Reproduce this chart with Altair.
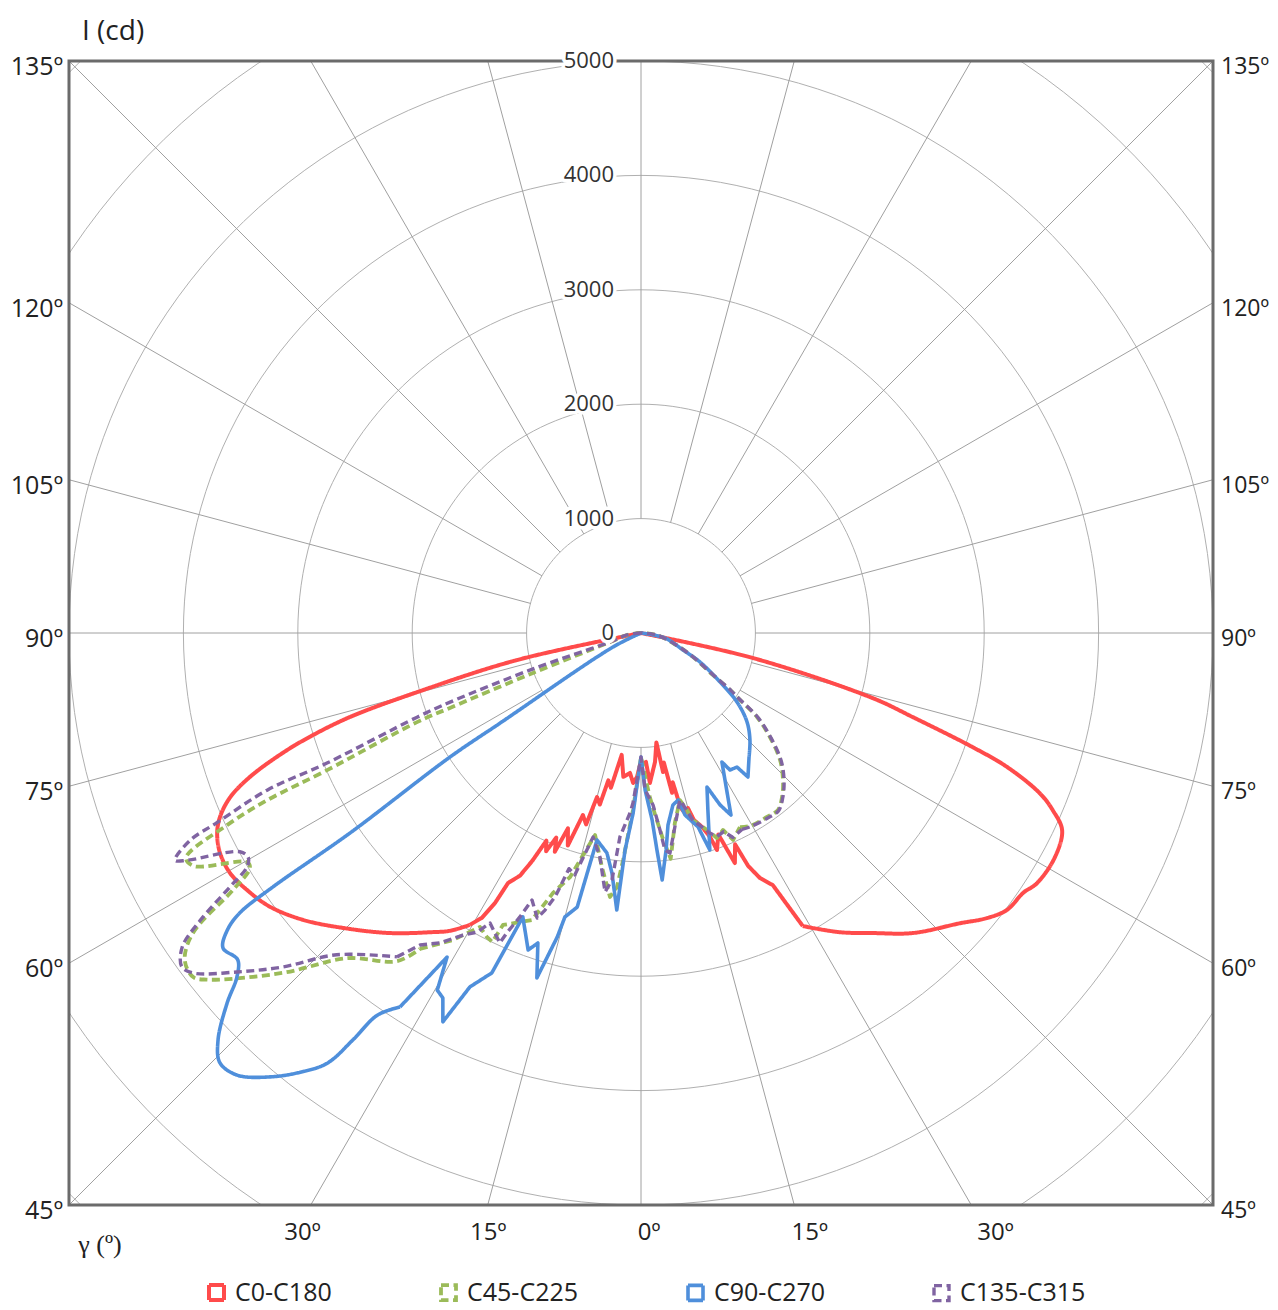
import altair as alt
import pandas as pd
import numpy as np

# ---------------- data ----------------
SERIES = ["C0-C180", "C45-C225", "C90-C270", "C135-C315"]
COLORS = ["#ff4b4b", "#9bbb59", "#4f8fdb", "#8064a2"]

# signed gamma (deg): negative = left half-plane, positive = right half-plane
red_gamma = [-90, -77.7, -75.2, -73.9, -72.6, -71.5, -69.8, -68.2, -66.4, -64.7, -62.4, -59.7,
             -56.9, -53.6, -49.7, -45.3, -39.9, -34.8, -32.7, -30.4, -29.2, -28.4, -28.0, -26.5,
             -25.5, -24.5, -23.5, -22.5, -21.5, -20.5, -19.0, -17.7, -16.0, -15.0, -13.5, -12.5,
             -11.0, -9.0, -7.0, -4.5, -3.0, -1.6, -0.4, 2.2, 3.4, 6.2, 8.0, 9.0, 10.0, 11.0, 12.0,
             12.8, 13.7, 15.0, 15.8, 17.5, 18.7, 19.3, 21.0, 22.2, 24.0, 24.7, 25.9, 27.6, 28.9,
             33.6, 37.7, 42.2, 47.7, 50.5, 52.9, 55.8, 57.7, 61.5, 64.9, 66.7, 68.1, 69.9, 71.0,
             72.8, 74.3, 77.4, 90]
red_cd = [0, 1109, 2025, 2648, 3033, 3301, 3642, 3868, 4016, 4098, 4152, 4160,
          4112, 4031, 3876, 3665, 3419, 3184, 3094, 2958, 2853, 2683, 2475, 2370,
          2206, 1995, 2080, 1935, 2055, 1823, 1965, 1670, 1741, 1484, 1542, 1319,
          1378, 1079, 1267, 1227, 1313, 1259, 1154, 1128, 1313, 1134, 966, 1230, 1150, 1423, 1334,
          1565, 1620, 1584, 1699, 1778, 1883, 2010, 1886, 2172, 2022, 2241, 2381, 2487, 2926,
          3140, 3315, 3540, 3770, 3918, 4012, 4040, 4094, 4115, 4065, 3920, 3758, 3407, 3068,
          2488, 2106, 1003, 0]

green_gamma = [-90, -81.9, -73.8, -69.7, -68.6, -68.3, -66.4, -65.9, -65.1, -63.7, -62.5, -59.8,
               -59.0, -57.8, -56.2, -54.4, -52.5, -51.4, -46.5, -42.1, -36.6, -35.0, -31.5, -28.7,
               -26.9, -25.7, -25.3, -20.8, -18.7, -16.2, -14.6, -12.8, -9.5, -6.7, -5.4, -4.5, -2.6,
               0, 3.0, 4.5, 6.0, 7.5, 10.1, 13.1, 14.6, 15.3, 17.1, 19.1, 20.3, 22.6, 24.0, 27.0,
               29.5, 34.4, 37.7, 40.7, 44.0, 47.6, 51.1, 54.1, 56.3, 57.4, 59.7, 65.2, 72.6, 82.7, 90]
green_cd = [0, 124, 282, 1007, 1794, 2107, 2995, 3580, 3989, 4436, 4410, 3983,
            3988, 4215, 4713, 4905, 4937, 4857, 4316, 3831, 3573, 3371, 3147, 2930,
            2979, 2998, 2823, 2684, 2399, 2221, 2006, 1811, 2073, 2323, 2230, 1990, 1549,
            1084, 1430, 1600, 1800, 1990, 1687, 1499, 1599, 1694, 1756, 1841, 1911, 1865, 1980, 1904,
            1938, 1949, 1956, 1891, 1787, 1646, 1448, 1252, 1009, 924, 729, 501, 293, 138, 0]

blue_gamma = [-90, -63.4, -57.4, -57.0, -55.5, -55.4, -55.1, -54.3, -53.0, -51.0, -49.6, -48.2,
              -46.1, -44.4, -42.4, -39.9, -37.8, -36.1, -35.3, -34.6, -32.8, -30.9, -29.7, -28.5,
              -27.0, -25.8, -23.7, -22.6, -19.6, -18.4, -16.8, -15.4, -15.0, -13.1, -12.0, -8.8,
              -6.9, -5.0, -4.2, -2.5, 0, 1.5, 3.4, 4.2, 4.9, 6.6, 8.0, 10.5, 12.5, 13.6, 16.4, 17.6,
              20.7, 23.2, 24.7, 26.3, 27.9, 32.1, 33.0, 35.6, 36.6, 41.1, 45.5, 50.0, 54.3, 58.2,
              63.8, 68.0, 78.2, 90]
blue_cd = [0, 274, 1462, 1991, 3086, 3908, 4275, 4454, 4575, 4537, 4638, 4853,
           5131, 5260, 5234, 5058, 4859, 4654, 4358, 4059, 3889, 3301, 3594, 3630,
           3815, 3436, 3245, 2688, 2941, 2856, 3149, 2757, 2570, 2460, 1850, 1946,
           2113, 2430, 1902, 1575, 1084, 1372, 1637, 1902, 2167, 1909, 1695, 1530, 1495, 1637, 1767, 1990,
           1654, 1464, 1654, 1775, 1623, 1331, 1428, 1441, 1568, 1437, 1335, 1210, 1033, 813,
           575, 396, 214, 0]

purple_gamma = [-90, -82.0, -74.0, -71.6, -70.1, -69.4, -67.5, -67.2, -65.9, -65.3, -64.0, -63.4,
                -61.4, -60.3, -59.3, -58.3, -56.9, -55.6, -54.0, -52.8, -50.0, -47.0, -43.4, -37.0,
                -35.3, -33.0, -30.5, -28.7, -27.5, -24.5, -24.1, -23.1, -22.2, -20.0, -19.1, -18.0,
                -17.0, -15.3, -13.2, -10.4, -7.9, -6.7, -5.9, -3.5, -2.7, 0, 1.5, 4.0, 5.5, 6.3, 7.5,
                9.9, 13.1, 14.6, 15.5, 17.3, 19.0, 20.5, 22.6, 24.2, 27.2, 29.5, 34.4, 37.7, 40.7,
                44.0, 47.6, 51.1, 54.1, 56.3, 57.4, 59.7, 65.2, 72.6, 82.7, 90]
purple_cd = [0, 124, 282, 995, 1775, 2091, 2971, 3545, 4061, 4338, 4531, 4437,
             3994, 3954, 4005, 4223, 4599, 4861, 4962, 4916, 4610, 4280, 3871, 3545,
             3342, 3230, 3064, 2981, 2858, 2977, 2872, 2698, 2521, 2652, 2563, 2421,
             2154, 2192, 1832, 1990, 2286, 2174, 1792, 1576, 1488, 1084, 1372, 1507, 1730, 1908, 1940,
             1721, 1499, 1610, 1700, 1770, 1850, 1900, 1880, 1960, 1930, 1945, 1960, 1965, 1900,
             1800, 1660, 1460, 1265, 1020, 935, 740, 505, 295, 140, 0]

RINGS = [1000, 2000, 3000, 4000, 5000, 6000, 7000]
SPOKES = list(range(0, 360, 15))
TICKS = [0, 1000, 2000, 3000, 4000, 5000]
SIDE_ANGLES = [135, 120, 105, 90, 75, 60, 45]
SIDE_LABELS = ["135º", "120º", "105º", "90º", "75º", "60º", "45º"]
BOTTOM_ANGLES = [-30, -15, 0, 15, 30]
BOTTOM_LABELS = ["30º", "15º", "0º", "15º", "30º"]
RMAX = 5000
LABEL_R = 5245   # the gamma labels sit on their rays, just below the frame

# drawing style: outer lobes are drawn smoothed, the noisy central part with straight segments
SMOOTH_CUTS = {"C0-C180": (-30.4, 28.9), "C45-C225": (-35.0, 27.0),
               "C90-C270": (-32.8, 41.1), "C135-C315": (-37.0, 27.2)}

FONT = "Open Sans"
TXT = "#222222"

# ---------------- tables ----------------
rows = []
for name, gs, vs in zip(SERIES, [red_gamma, green_gamma, blue_gamma, purple_gamma],
                        [red_cd, green_cd, blue_cd, purple_cd]):
    lo, hi = SMOOTH_CUTS[name]
    for i, (g, v) in enumerate(zip(gs, vs)):
        parts = []
        if g <= lo:
            parts.append("L")
        if g >= hi:
            parts.append("R")
        if lo <= g <= hi:
            parts.append("C")
        for p in parts:
            rows.append({"series": name, "part": p, "idx": i, "gamma": g, "cd": v})
curves_df = pd.DataFrame(rows)

ring_rows = []
for r in RINGS:
    for k, t in enumerate(range(0, 361, 2)):
        ring_rows.append({"r": r, "k": k, "rx": float(r * np.cos(np.radians(t))),
                          "ry": float(r * np.sin(np.radians(t)))})
rings_df = pd.DataFrame(ring_rows)

spokes_df = pd.DataFrame({"a": SPOKES})
ticks_df = pd.DataFrame({"v": TICKS, "label": [str(t) for t in TICKS]})
side_df = pd.DataFrame({"ang": SIDE_ANGLES, "label": SIDE_LABELS})
bottom_df = pd.DataFrame({"ang": BOTTOM_ANGLES, "label": BOTTOM_LABELS})
frame_df = pd.DataFrame({"x0": [-RMAX], "x1": [RMAX], "y0": [-RMAX], "y1": [RMAX]})
gamma_df = pd.DataFrame({"label": ["γ (º)"], "x0": [-RMAX], "y0": [-RMAX]})

XS = alt.Scale(domain=[-RMAX, RMAX], nice=False, zero=False)
YS = alt.Scale(domain=[-RMAX, RMAX], nice=False, zero=False)

rings = alt.Chart(rings_df).mark_line(clip=True, stroke="#b0b0b0", strokeWidth=1).encode(
    x=alt.X("rx:Q", scale=XS, axis=None),
    y=alt.Y("ry:Q", scale=YS, axis=None),
    detail="r:N",
    order="k:Q",
)

spokes = alt.Chart(spokes_df).transform_calculate(
    sx="1000*sin(datum.a*PI/180)", sy="-1000*cos(datum.a*PI/180)",
    ex="9000*sin(datum.a*PI/180)", ey="-9000*cos(datum.a*PI/180)",
).mark_rule(clip=True, stroke="#a0a0a0", strokeWidth=1).encode(
    x=alt.X("sx:Q", scale=XS, axis=None), y=alt.Y("sy:Q", scale=YS, axis=None),
    x2="ex:Q", y2="ey:Q",
)

frame = alt.Chart(frame_df).mark_rect(fillOpacity=0, stroke="#6b6b6b", strokeWidth=3).encode(
    x=alt.X("x0:Q", scale=XS, axis=None), x2="x1:Q",
    y=alt.Y("y0:Q", scale=YS, axis=None), y2="y1:Q",
)

legend = alt.Legend(
    title=None, orient="none", legendX=135, legendY=1219, direction="horizontal",
    symbolType="square", symbolSize=225, symbolStrokeWidth=3.5, symbolFillColor="white",
    labelFont=FONT, labelFontSize=25, labelColor=TXT, labelOffset=6, columnPadding=101,
    labelLimit=300,
)

curve_enc = dict(
    x=alt.X("px:Q", scale=XS, axis=None),
    y=alt.Y("py:Q", scale=YS, axis=None),
    color=alt.Color("series:N", scale=alt.Scale(domain=SERIES, range=COLORS), legend=legend),
    strokeDash=alt.StrokeDash("series:N", scale=alt.Scale(domain=SERIES, range=[[1, 0], [8, 4.5], [1, 0], [8, 4.5]]),
                              legend=legend),
    strokeWidth=alt.StrokeWidth("series:N", scale=alt.Scale(domain=SERIES, range=[4, 3.4, 4, 3.4]), legend=None),
    detail="part:N",
    order="idx:Q",
)
curves_base = alt.Chart(curves_df).transform_calculate(
    px="datum.cd*sin(datum.gamma*PI/180)",
    py="-datum.cd*cos(datum.gamma*PI/180)",
)
curves_smooth = curves_base.transform_filter("datum.part != 'C'").mark_line(
    clip=True, strokeJoin="round", interpolate="catmull-rom").encode(**curve_enc)
curves_sharp = curves_base.transform_filter("datum.part == 'C'").mark_line(
    clip=True, strokeJoin="round", interpolate="linear").encode(**curve_enc)

tick_base = alt.Chart(ticks_df).transform_calculate(zx="0")
tick_halo = tick_base.mark_text(
    align="right", baseline="middle", dx=-27, font=FONT, fontSize=22,
    stroke="white", strokeWidth=7, strokeJoin="round", fill="white").encode(
    x=alt.X("zx:Q", scale=XS, axis=None), y=alt.Y("v:Q", scale=YS, axis=None), text="label:N")
tick_text = tick_base.mark_text(
    align="right", baseline="middle", dx=-27, font=FONT, fontSize=22, color="#333333").encode(
    x=alt.X("zx:Q", scale=XS, axis=None), y=alt.Y("v:Q", scale=YS, axis=None), text="label:N")

side_base = alt.Chart(side_df).transform_calculate(
    lx=f"-{RMAX}", rx=f"{RMAX}",
    ly=f"-{RMAX}*cos(datum.ang*PI/180)/sin(datum.ang*PI/180)")
left_labels = side_base.mark_text(
    align="right", baseline="middle", dx=-6, dy=6, font=FONT, fontSize=25, color=TXT).encode(
    x=alt.X("lx:Q", scale=XS, axis=None), y=alt.Y("ly:Q", scale=YS, axis=None), text="label:N")
right_labels = side_base.mark_text(
    align="left", baseline="middle", dx=8, dy=6, font=FONT, fontSize=23, color=TXT).encode(
    x=alt.X("rx:Q", scale=XS, axis=None), y=alt.Y("ly:Q", scale=YS, axis=None), text="label:N")

bottom_labels = alt.Chart(bottom_df).transform_calculate(
    bx=f"{LABEL_R}*sin(datum.ang*PI/180)/cos(datum.ang*PI/180)", by=f"-{LABEL_R}").mark_text(
    align="center", baseline="middle", dx=8, font=FONT, fontSize=24, color=TXT).encode(
    x=alt.X("bx:Q", scale=XS, axis=None), y=alt.Y("by:Q", scale=YS, axis=None), text="label:N")

gamma_label = alt.Chart(gamma_df).mark_text(
    align="center", baseline="middle", dx=31, dy=40, font="Liberation Serif", fontSize=26, color=TXT).encode(
    x=alt.X("x0:Q", scale=XS, axis=None), y=alt.Y("y0:Q", scale=YS, axis=None), text="label:N")

chart = alt.layer(
    rings, spokes, curves_smooth, curves_sharp, frame, tick_halo, tick_text,
    left_labels, right_labels, bottom_labels, gamma_label
).properties(
    width=1144, height=1144,
    title=alt.TitleParams("I (cd)", anchor="start", frame="group", dx=13, offset=4, font=FONT, fontSize=28,
                          fontWeight="normal", color=TXT),
    autosize=alt.AutoSizeParams(type="none"),
    padding={"left": 61, "top": 53, "right": 57, "bottom": 104},
).configure_view(strokeWidth=0)

chart.save("out.html", embed_options={"renderer": "svg", "actions": False})
